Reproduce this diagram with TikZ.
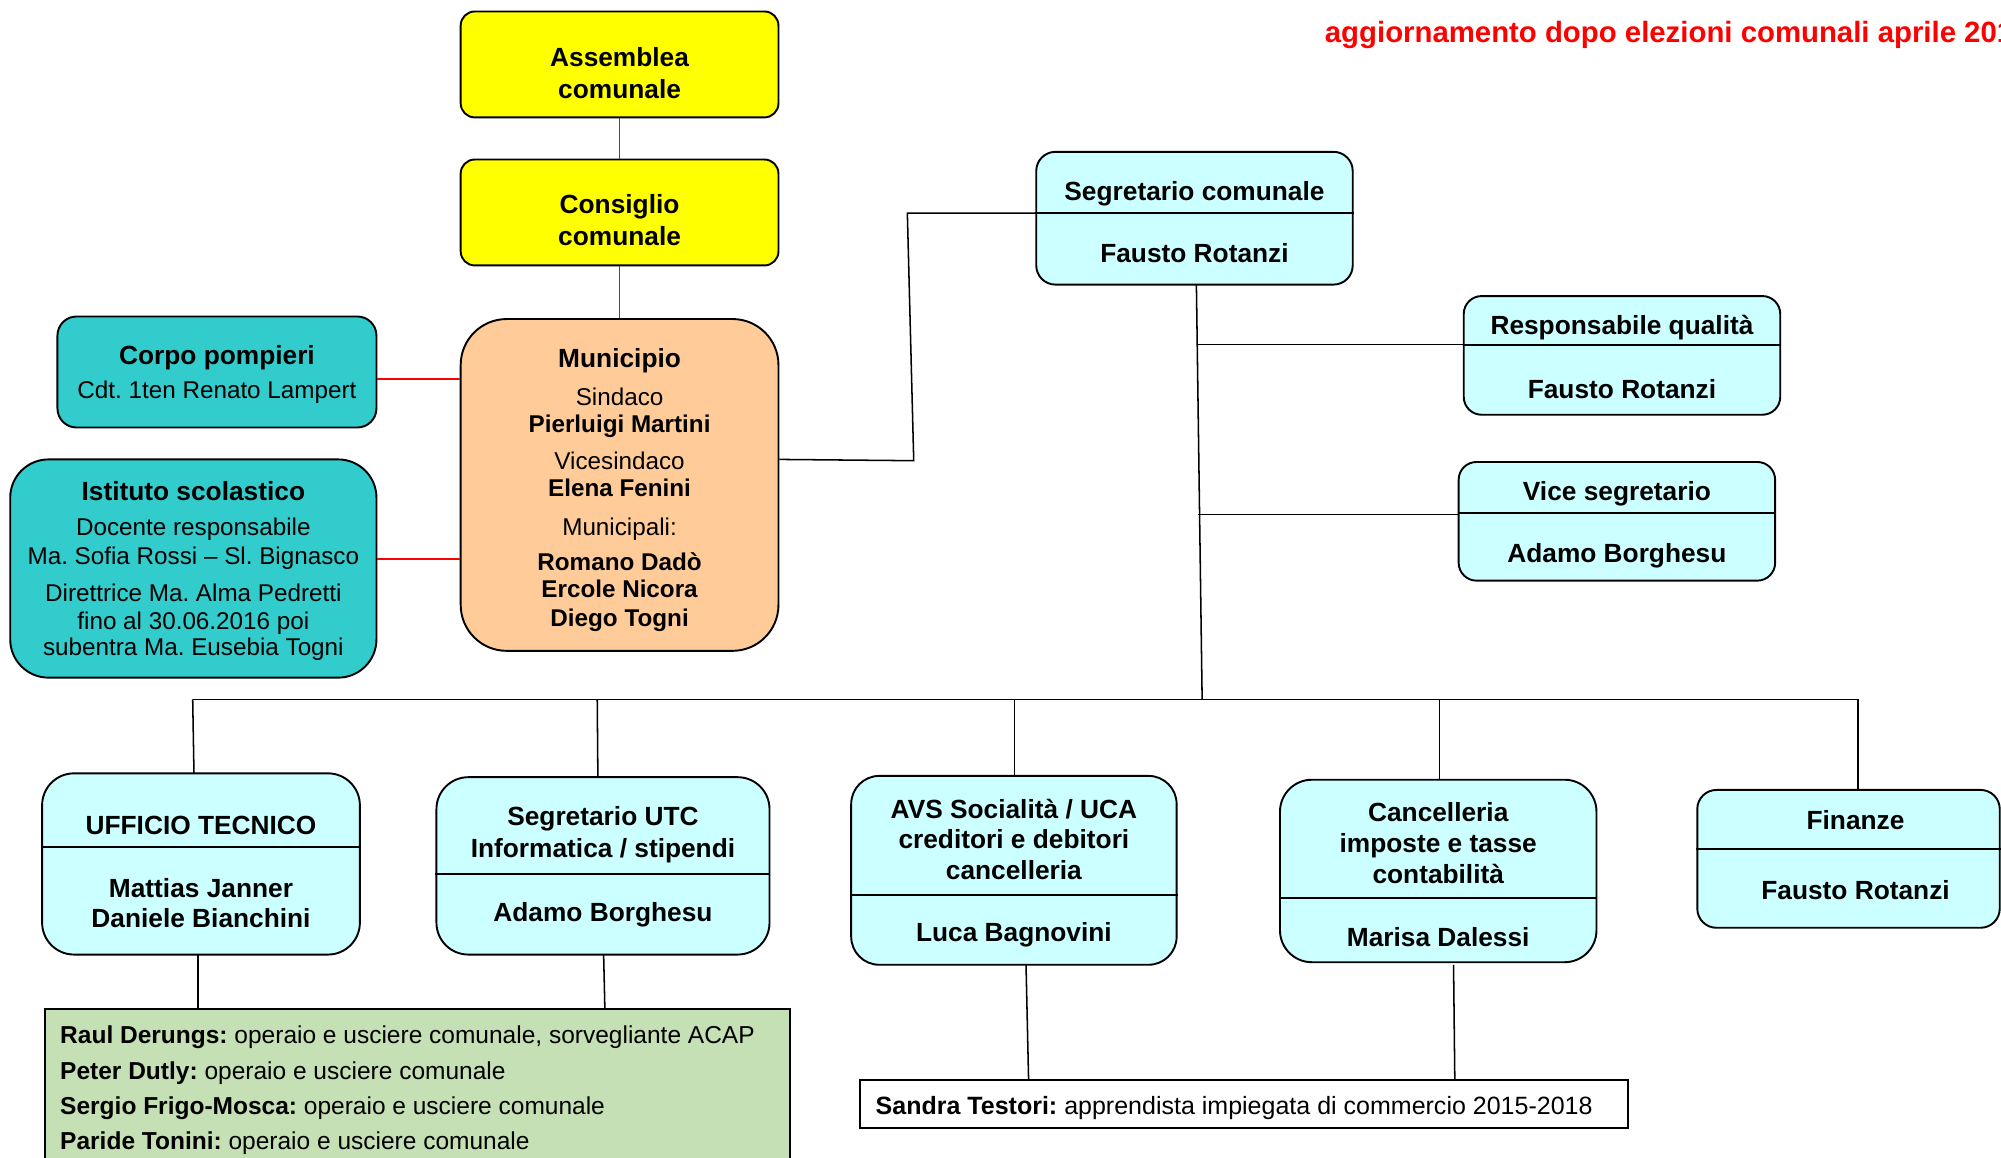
\documentclass[tikz,border=0pt]{standalone}
\usepackage{fontspec}
\setmainfont{Liberation Sans}
\frenchspacing
\newcommand\fB{\fontsize{20.6}{25}\selectfont\bfseries}
\newcommand\fM{\fontsize{19}{22}\selectfont\bfseries}
\newcommand\fN{\fontsize{19}{22}\selectfont\mdseries}
\newcommand\fT{\fontsize{23}{26}\selectfont\bfseries}
\newcommand\fGB{\fontsize{19.2}{22}\selectfont\bfseries}
\newcommand\fGN{\fontsize{19.2}{22}\selectfont\mdseries}
\newcommand\fSB{\fontsize{19.6}{22}\selectfont\bfseries}
\newcommand\fSN{\fontsize{19.6}{22}\selectfont\mdseries}
\definecolor{cyellow}{HTML}{FFFF00}
\definecolor{corange}{HTML}{FFCC99}
\definecolor{cteal}{HTML}{33CCCC}
\definecolor{ccyan}{HTML}{CCFFFF}
\definecolor{cgreen}{HTML}{C5E0B4}
\definecolor{cred}{HTML}{FF0000}
\tikzset{
  box/.style={draw=black, line width=1.5pt, inner sep=0pt, rounded corners=#1},
  box/.default=12pt,
  divider/.style={draw=black, line width=1.5pt},
  conn/.style={draw=black, line width=1.2pt},
  rconn/.style={draw=cred, line width=1.2pt},
  tx/.style={anchor=base, inner sep=0pt},
  txl/.style={anchor=base west, inner sep=0pt},
}
\newcommand\T[5]{\node[tx] (#1) at (#2,{#3+7}) {#4#5};}
\begin{document}
\begin{tikzpicture}[x=1pt,y=-1pt]
\useasboundingbox (0,0) rectangle (1568,907);
% title
\node[txl, text=cred] (title) at (1038,33) {\fT aggiornamento dopo elezioni comunali aprile 2016};
% boxes
\node[box=11pt, fill=cyellow, minimum width=249pt, minimum height=83pt] (assem) at (485.5,50.5) {};
\node[box=11pt, fill=cyellow, minimum width=249pt, minimum height=83pt] (cons) at (485.5,166.5) {};
\node[box=36pt, fill=corange, minimum width=249pt, minimum height=260pt] (muni) at (485.5,380) {};
\node[box=15pt, fill=cteal, minimum width=250pt, minimum height=87pt] (corpo) at (170,291.5) {};
\node[box=30pt, fill=cteal, minimum width=287pt, minimum height=171pt] (ist) at (151.5,445.5) {};
\node[box=15pt, fill=ccyan, minimum width=248pt, minimum height=104pt] (segr) at (936,171) {};
\node[box=14pt, fill=ccyan, minimum width=248pt, minimum height=93pt] (resp) at (1271,278.5) {};
\node[box=14pt, fill=ccyan, minimum width=248pt, minimum height=93pt] (vice) at (1267,408.5) {};
\node[box=25pt, fill=ccyan, minimum width=249pt, minimum height=142pt] (uff) at (157.5,677) {};
\node[box=25pt, fill=ccyan, minimum width=261pt, minimum height=139pt] (utc) at (472.5,678.5) {};
\node[box=22pt, fill=ccyan, minimum width=255pt, minimum height=148pt] (avs) at (794.5,682) {};
\node[box=25pt, fill=ccyan, minimum width=248pt, minimum height=143pt] (canc) at (1127,682.5) {};
\node[box=15pt, fill=ccyan, minimum width=237pt, minimum height=108pt] (fin) at (1448.5,673) {};
\node[box=0pt, fill=cgreen, minimum width=584pt, minimum height=124pt] (oper) at (327,853) {};
\node[box=0pt, fill=white, minimum width=602pt, minimum height=38pt] (sandra) at (975,865) {};
% dividers
\draw[divider] (segr.west |- 0,167) -- (segr.east |- 0,167);
\draw[divider] (resp.west |- 0,270) -- (resp.east |- 0,270);
\draw[divider] (vice.west |- 0,402) -- (vice.east |- 0,402);
\draw[divider] (uff.west |- 0,664) -- (uff.east |- 0,664);
\draw[divider] (utc.west |- 0,685) -- (utc.east |- 0,685);
\draw[divider] (avs.west |- 0,701) -- (avs.east |- 0,701);
\draw[divider] (canc.west |- 0,704) -- (canc.east |- 0,704);
\draw[divider] (fin.west |- 0,665) -- (fin.east |- 0,665);
% red connectors
\draw[rconn] (assem.south) -- (cons.north);
\draw[rconn] (cons.south) -- (muni.north);
\draw[rconn] (corpo.east |- 0,297) -- (muni.west |- 0,297);
\draw[rconn] (ist.east |- 0,438) -- (muni.west |- 0,438);
% black connectors
\coordinate (k1) at (716,361);
\coordinate (k2) at (711,167);
\draw[conn] (muni.east |- 0,360) -- (k1) -- (k2) -- (segr.west |- k2);
\coordinate (s0) at (937.5,223);
\coordinate (j1) at (938.5,270);
\coordinate (j2) at (939,403);
\coordinate (hub) at (942,548);
\draw[conn] (s0) -- (hub);
\draw[conn] (j1) -- (resp.west |- j1);
\draw[conn] (j2) -- (vice.west |- j2);
\coordinate (b1) at (151,548);
\coordinate (b2) at (468,548);
\coordinate (b3) at (795,548);
\coordinate (b4) at (1128,548);
\coordinate (b5) at (1456,548);
\draw[conn] (b1) -- (b5);
\draw[conn] (b1) -- (152,606);
\draw[conn] (b2) -- (468.5,609);
\draw[conn] (b3) -- (795,608);
\draw[conn] (b4) -- (1128,611);
\draw[conn] (b5) -- (1456,619);
\draw[conn] (155,748) -- (155,791);
\draw[conn] (473,748) -- (474,791);
\draw[conn] (804,756) -- (806,846);
\draw[conn] (1139,756) -- (1140,846);
% texts
\T{t1}{485.5}{45}{\fB}{Assemblea}
\T{t2}{485.5}{70}{\fB}{comunale}
\T{t3}{485.5}{160}{\fB}{Consiglio}
\T{t4}{485.5}{185}{\fB}{comunale}
\T{m1}{485.5}{281}{\fB}{Municipio}
\T{m2}{485.5}{311}{\fN}{Sindaco}
\T{m3}{485.5}{332}{\fM}{Pierluigi Martini}
\T{m4}{485.5}{361}{\fN}{Vicesindaco}
\T{m5}{485.5}{382}{\fM}{Elena Fenini}
\T{m6}{485.5}{413}{\fN}{Municipali:}
\T{m7}{485.5}{440}{\fM}{Romano Dadò}
\T{m8}{485.5}{461}{\fM}{Ercole Nicora}
\T{m9}{485.5}{484}{\fM}{Diego Togni}
\T{c1}{170}{279}{\fB}{Corpo pompieri}
\T{c2}{170}{305}{\fN}{Cdt. 1ten Renato Lampert}
\T{i1}{151.5}{385}{\fB}{Istituto scolastico}
\T{i2}{151.5}{413}{\fN}{Docente responsabile}
\T{i3}{151.5}{435}{\fN}{Ma. Sofia Rossi – Sl. Bignasco}
\T{i4}{151.5}{464}{\fN}{Direttrice Ma. Alma Pedretti}
\T{i5}{151.5}{486}{\fN}{fino al 30.06.2016 poi}
\T{i6}{151.5}{507}{\fN}{subentra Ma. Eusebia Togni}
\T{s1}{936}{150}{\fB}{Segretario comunale}
\T{s2}{936}{199}{\fB}{Fausto Rotanzi}
\T{r1}{1271}{255}{\fB}{Responsabile qualità}
\T{r2}{1271}{305}{\fB}{Fausto Rotanzi}
\T{v1}{1267}{385}{\fB}{Vice segretario}
\T{v2}{1267}{434}{\fB}{Adamo Borghesu}
\T{u1}{157.5}{647}{\fB}{UFFICIO TECNICO}
\T{u2}{157.5}{696}{\fB}{Mattias Janner}
\T{u3}{157.5}{720}{\fB}{Daniele Bianchini}
\T{g1}{472.5}{640}{\fB}{Segretario UTC}
\T{g2}{472.5}{665}{\fB}{Informatica / stipendi}
\T{g3}{472.5}{715}{\fB}{Adamo Borghesu}
\T{a1}{794.5}{634}{\fB}{AVS Socialità / UCA}
\T{a2}{794.5}{658}{\fB}{creditori e debitori}
\T{a3}{794.5}{682}{\fB}{cancelleria}
\T{a4}{794.5}{731}{\fB}{Luca Bagnovini}
\T{n1}{1127}{637}{\fB}{Cancelleria}
\T{n2}{1127}{661}{\fB}{imposte e tasse}
\T{n3}{1127}{685}{\fB}{contabilità}
\T{n4}{1127}{735}{\fB}{Marisa Dalessi}
\T{f1}{1454}{643}{\fB}{Finanze}
\T{f2}{1454}{698}{\fB}{Fausto Rotanzi}
\node[txl] (o1) at (47,818) {\fGB Raul Derungs: \fGN operaio e usciere comunale, sorvegliante ACAP};
\node[txl] (o2) at (47,846) {\fGB Peter Dutly: \fGN operaio e usciere comunale};
\node[txl] (o3) at (47,873) {\fGB Sergio Frigo-Mosca: \fGN operaio e usciere comunale};
\node[txl] (o4) at (47,901) {\fGB Paride Tonini: \fGN operaio e usciere comunale};
\node[txl] (sd) at (686,873) {\fSB Sandra Testori: \fSN apprendista impiegata di commercio 2015-2018};
\end{tikzpicture}
\end{document}
